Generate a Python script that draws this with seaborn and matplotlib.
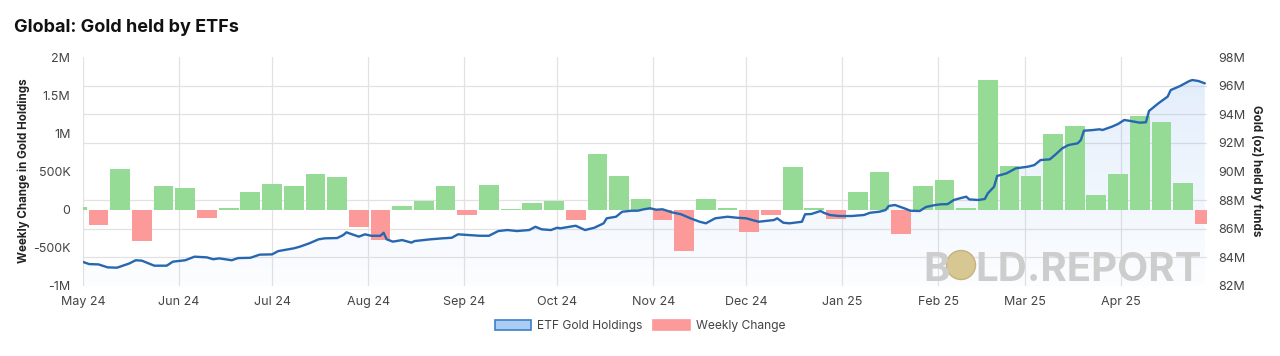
import numpy as np
import pandas as pd
import matplotlib
matplotlib.use("Agg")
import matplotlib.pyplot as plt
import matplotlib.dates as mdates
import matplotlib.transforms as mtransforms
from matplotlib.patches import Patch, Ellipse
from matplotlib.ticker import FixedLocator
import seaborn as sns

# ---------------- data ----------------
week_start = "2024-04-29"
weekly_change_m = [0.035, -0.205, 0.53, -0.415, 0.314, 0.279, -0.114, 0.02, 0.23, 0.33,
                   0.305, 0.463, 0.427, -0.228, -0.393, 0.043, 0.109, 0.31, -0.066, 0.318,
                   0.013, 0.09, 0.109, -0.131, 0.729, 0.44, 0.144, -0.14, -0.547, 0.135,
                   0.026, -0.298, -0.07, 0.555, 0.026, -0.127, 0.227, 0.489, -0.324, 0.31,
                   0.384, 0.017, 1.695, 0.577, 0.44, 0.99, 1.1, 0.187, 0.467, 1.227,
                   1.148, 0.349, -0.189]

hold_dates = ["2024-05-01","2024-05-03","2024-05-06","2024-05-09","2024-05-12","2024-05-16","2024-05-18","2024-05-20","2024-05-24","2024-05-28",
              "2024-05-30","2024-06-03","2024-06-06","2024-06-10","2024-06-12","2024-06-14","2024-06-18","2024-06-20","2024-06-24","2024-06-27",
              "2024-07-01","2024-07-03","2024-07-08","2024-07-10","2024-07-13","2024-07-16","2024-07-18","2024-07-22","2024-07-24","2024-07-25",
              "2024-07-29","2024-07-31","2024-08-02","2024-08-05","2024-08-06","2024-08-07","2024-08-09","2024-08-12","2024-08-15","2024-08-16",
              "2024-08-21","2024-08-25","2024-08-28","2024-08-30","2024-09-06","2024-09-09","2024-09-12","2024-09-15","2024-09-18","2024-09-22",
              "2024-09-24","2024-09-26","2024-09-29","2024-10-01","2024-10-02","2024-10-05","2024-10-07","2024-10-10","2024-10-13","2024-10-16",
              "2024-10-17","2024-10-20","2024-10-22","2024-10-25","2024-10-27","2024-10-29","2024-10-31","2024-11-02","2024-11-04","2024-11-07",
              "2024-11-10","2024-11-13","2024-11-16","2024-11-18","2024-11-21","2024-11-25","2024-11-28","2024-12-01","2024-12-05","2024-12-07",
              "2024-12-10","2024-12-11","2024-12-13","2024-12-15","2024-12-19","2024-12-20","2024-12-22","2024-12-25","2024-12-26","2024-12-28",
              "2024-12-31","2025-01-04","2025-01-08","2025-01-10","2025-01-13","2025-01-15","2025-01-16","2025-01-18","2025-01-21","2025-01-23",
              "2025-01-26","2025-01-28","2025-01-31","2025-02-02","2025-02-04","2025-02-06","2025-02-08","2025-02-10","2025-02-11","2025-02-14",
              "2025-02-16","2025-02-17","2025-02-19","2025-02-20","2025-02-23","2025-02-26","2025-03-02","2025-03-04","2025-03-06","2025-03-09",
              "2025-03-11","2025-03-13","2025-03-15","2025-03-18","2025-03-19","2025-03-20","2025-03-23","2025-03-25","2025-03-26","2025-03-29",
              "2025-03-31","2025-04-02","2025-04-04","2025-04-07","2025-04-09","2025-04-10","2025-04-13","2025-04-16","2025-04-17","2025-04-20",
              "2025-04-23","2025-04-24","2025-04-26","2025-04-28"]
holdings_m = [83.68, 83.53, 83.51, 83.30, 83.28, 83.58, 83.80, 83.77, 83.42, 83.42,
              83.70, 83.80, 84.05, 84.00, 83.87, 83.93, 83.80, 83.95, 83.97, 84.19,
              84.21, 84.44, 84.63, 84.75, 84.98, 85.26, 85.33, 85.35, 85.56, 85.75,
              85.45, 85.61, 85.51, 85.51, 85.72, 85.26, 85.10, 85.21, 85.03, 85.14,
              85.26, 85.33, 85.37, 85.61, 85.51, 85.51, 85.84, 85.91, 85.84, 85.91,
              86.14, 85.96, 85.91, 86.07, 86.03, 86.14, 86.21, 85.91, 86.07, 86.38,
              86.73, 86.84, 87.19, 87.26, 87.26, 87.36, 87.43, 87.33, 87.36, 87.15,
              87.01, 86.73, 86.49, 86.38, 86.73, 86.84, 86.77, 86.73, 86.49, 86.54,
              86.61, 86.73, 86.42, 86.38, 86.49, 87.01, 87.03, 87.24, 87.12, 86.96,
              86.89, 86.89, 86.96, 87.12, 87.19, 87.31, 87.59, 87.66, 87.43, 87.26,
              87.24, 87.52, 87.66, 87.71, 87.72, 88.01, 88.13, 88.24, 88.05, 88.01,
              88.08, 88.48, 88.94, 89.69, 89.87, 90.22, 90.34, 90.45, 90.80, 90.85,
              91.22, 91.62, 91.85, 91.97, 92.20, 92.85, 92.90, 92.95, 92.90, 93.13,
              93.32, 93.60, 93.53, 93.41, 93.44, 94.23, 94.76, 95.23, 95.69, 95.97,
              96.32, 96.39, 96.32, 96.16]

month_ticks = ["2024-05-01", "2024-06-01", "2024-07-01", "2024-08-01", "2024-09-01", "2024-10-01",
               "2024-11-01", "2024-12-01", "2025-01-01", "2025-02-01", "2025-03-01", "2025-04-01"]
month_labels = ["May 24", "Jun 24", "Jul 24", "Aug 24", "Sep 24", "Oct 24",
                "Nov 24", "Dec 24", "Jan 25", "Feb 25", "Mar 25", "Apr 25"]
left_ticks = [-1e6, -5e5, 0, 5e5, 1e6, 1.5e6, 2e6]
left_labels = ["-1M", "-500K", "0", "500K", "1M", "1.5M", "2M"]
right_ticks = [82e6, 84e6, 86e6, 88e6, 90e6, 92e6, 94e6, 96e6, 98e6]
right_labels = ["82M", "84M", "86M", "88M", "90M", "92M", "94M", "96M", "98M"]

# ---------------- style ----------------
sns.set_theme(style="white")
plt.rcParams["font.family"] = ["Inter", "DejaVu Sans"]

GREEN = "#95da95"
RED = "#fc9a9a"
LINE = "#2767b0"
GRID = "#e2e2e2"
TXT = "#444444"

W, H = 1280, 356
fig = plt.figure(figsize=(W / 100, H / 100), dpi=100)
fig.patch.set_facecolor("white")
ax1 = fig.add_axes([83 / W, 70 / H, 1124 / W, 229 / H])
ax2 = ax1.twinx()

week_dt = pd.date_range(week_start, periods=len(weekly_change_m), freq="7D")
weekly = np.array(weekly_change_m) * 1e6
hold_dt = pd.to_datetime(hold_dates)
hold = np.array(holdings_m) * 1e6

x0 = mdates.date2num(pd.Timestamp("2024-05-01"))
x1 = mdates.date2num(pd.Timestamp("2025-04-28 17:00"))
yl = (-1e6, 2e6)
yr = (82e6, 98e6)

# gradient area under the holdings line (drawn on ax1 with ax2's y scale)
trans = mtransforms.blended_transform_factory(ax1.transData, ax2.transData)
poly = ax1.fill_between(hold_dt, hold, yr[0], transform=trans,
                        facecolor="none", edgecolor="none", zorder=1)
grad = np.zeros((256, 1, 4))
grad[:, 0, 0] = 0.45
grad[:, 0, 1] = 0.66
grad[:, 0, 2] = 0.93
grad[:, 0, 3] = np.linspace(0.02, 0.22, 256)
im = ax1.imshow(grad, extent=[x0, x1, yl[0], yl[1]], origin="lower",
                aspect="auto", zorder=1, interpolation="bilinear")
im.set_clip_path(poly.get_paths()[0], trans)

# weekly change bars
colors = [GREEN if v >= 0 else RED for v in weekly]
ax1.bar(week_dt, weekly, width=6.4, color=colors, zorder=2, linewidth=0)

# holdings line
sns.lineplot(x=hold_dt, y=hold, ax=ax2, color=LINE, linewidth=1.7, zorder=3)

# axes limits / ticks
ax1.set_xlim(x0, x1)
ax2.set_xlim(x0, x1)
ax1.set_ylim(*yl)
ax2.set_ylim(*yr)

ax1.set_xticks(pd.to_datetime(month_ticks))
ax1.set_xticklabels(month_labels)
ax1.yaxis.set_major_locator(FixedLocator(left_ticks))
ax1.set_yticklabels(left_labels)
# horizontal grid follows the right axis ticks
minor_pos = [yl[0] + (v - yr[0]) * (yl[1] - yl[0]) / (yr[1] - yr[0]) for v in right_ticks]
ax1.yaxis.set_minor_locator(FixedLocator(minor_pos))
ax1.grid(axis="x", which="major", color=GRID, linewidth=0.9, zorder=0)
ax1.grid(axis="y", which="minor", color=GRID, linewidth=0.9, zorder=0)
ax1.grid(axis="y", which="major", visible=False)
ax1.set_axisbelow(True)

ax2.yaxis.set_major_locator(FixedLocator(right_ticks))
ax2.set_yticklabels(right_labels)
ax2.grid(False)
ax2.set_xlabel("")
ax2.set_ylabel("")
ax1.set_xlabel("")
ax1.set_ylabel("")

for a in (ax1, ax2):
    for s in a.spines.values():
        s.set_visible(False)
    a.patch.set_alpha(0)

ax1.tick_params(axis="y", which="both", length=0, pad=9, labelsize=9, colors=TXT)
ax1.tick_params(axis="x", length=0, pad=7, labelsize=9, colors=TXT)
ax2.tick_params(axis="y", length=0, pad=8, labelsize=9, colors=TXT)
for lab in ax2.get_yticklabels():
    lab.set_ha("left")

# texts
fig.text(14 / W, 1 - 28 / H, "Global: Gold held by ETFs", fontsize=13, weight="bold",
         color="#111111", va="center", ha="left")
fig.text(24 / W, 1 - 171 / H, "Weekly Change in Gold Holdings", rotation=90, fontsize=8.3,
         weight="bold", color="#222222", va="center", ha="center")
fig.text(1256 / W, 1 - 171 / H, "Gold (oz) held by funds", rotation=270, fontsize=8.3,
         weight="bold", color="#222222", va="center", ha="center")

# legend
handles = [Patch(facecolor="#a9cdf5", edgecolor="#3b7fc6", linewidth=1.2),
           Patch(facecolor=RED, edgecolor=RED, linewidth=1.2)]
fig.legend(handles, ["ETF Gold Holdings", "Weekly Change"], loc="center",
           bbox_to_anchor=(0.5, 1 - 326 / H), ncol=2, frameon=False, fontsize=8.7,
           handlelength=3.0, handleheight=0.9, columnspacing=0.9, handletextpad=0.5,
           labelcolor=TXT)

# watermark
WM = "#cdcdcd"
fig.text(923 / W, 1 - 281 / H, "B", fontsize=29, weight="bold", color=WM,
         ha="left", va="baseline")
fig.add_artist(Ellipse((961 / W, 1 - 265 / H), 29 / W, 29 / H, transform=fig.transFigure,
                       facecolor="#d7c793", edgecolor="#c6b27a", linewidth=1))
fig.text(975 / W, 1 - 281 / H, "LD.REPORT", fontsize=29, weight="bold", color=WM,
         ha="left", va="baseline")

fig.savefig("out.png", dpi=100)
